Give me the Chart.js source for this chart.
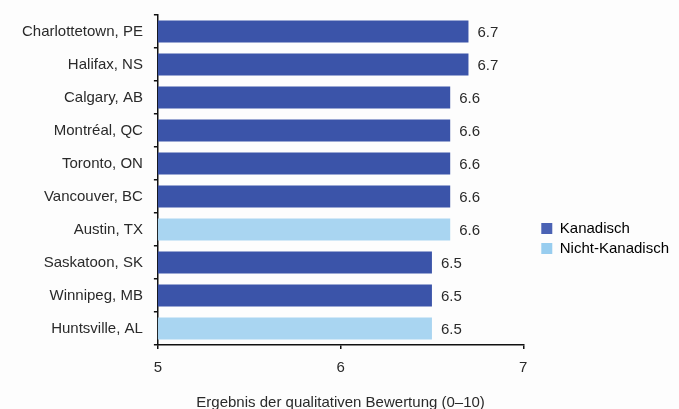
<!DOCTYPE html>
<html>
<head>
<meta charset="utf-8">
<script src="https://cdn.jsdelivr.net/npm/chart.js@4"></script>
<style>
  html, body { margin: 0; padding: 0; background: #fdfdfd; }
  #wrap { width: 679px; height: 409px; position: relative; }
</style>
</head>
<body>
<div id="wrap"><canvas id="c"></canvas></div>
<script>
// Cities and their qualitative scores (0–10 scale)
const cities = [
  'Charlottetown, PE', 'Halifax, NS', 'Calgary, AB', 'Montréal, QC', 'Toronto, ON',
  'Vancouver, BC', 'Austin, TX', 'Saskatoon, SK', 'Winnipeg, MB', 'Huntsville, AL'
];
const scores = [6.7, 6.7, 6.6, 6.6, 6.6, 6.6, 6.6, 6.5, 6.5, 6.5];
// true = Canadian city
const canadian = [true, true, true, true, true, true, false, true, true, false];
const groupNames = ['Kanadisch', 'Nicht-Kanadisch'];
const xTicks = [5, 6, 7];

const DARK = '#3b54a9';
const LIGHT = '#a9d5f1';
const LEGEND_DARK = '#4a62b4';
const LEGEND_LIGHT = '#98cdef';
const TEXT = '#2a2a2a';
const FONT = 'Liberation Sans, Arial, Helvetica, sans-serif';

// Value labels to the right of each bar
const valueLabels = {
  id: 'valueLabels',
  afterDatasetsDraw(chart) {
    const ctx = chart.ctx;
    const meta = chart.getDatasetMeta(0);
    ctx.save();
    ctx.font = '15px ' + FONT;
    ctx.fillStyle = TEXT;
    ctx.textAlign = 'left';
    ctx.textBaseline = 'middle';
    meta.data.forEach((bar, i) => {
      ctx.fillText(scores[i].toFixed(1), bar.x + 9, bar.y + 1);
    });
    ctx.restore();
  }
};

// Place the legend block beside the lower half of the plot
const legendPlacement = {
  id: 'legendPlacement',
  afterLayout(chart) {
    const lg = chart.legend;
    const dy = 25, dx = 13;
    lg.top += dy; lg.bottom += dy;
    lg.left += dx; lg.right += dx;
  }
};

new Chart(document.getElementById('c'), {
  type: 'bar',
  data: {
    labels: cities,
    datasets: [{
      data: scores,
      backgroundColor: canadian.map(c => c ? DARK : LIGHT),
      borderWidth: 0,
      barPercentage: 0.67,
      categoryPercentage: 1.0
    }]
  },
  options: {
    indexAxis: 'y',
    responsive: true,
    maintainAspectRatio: false,
    animation: false,
    layout: { padding: { top: 15, left: 11, right: 13, bottom: -3 } },
    plugins: {
      tooltip: { enabled: false },
      legend: {
        display: true,
        position: 'right',
        align: 'center',
        labels: {
          boxWidth: 11,
          boxHeight: 11,
          padding: 5,
          color: TEXT,
          font: { size: 15, family: FONT },
          generateLabels() {
            return groupNames.map((name, i) => ({
              text: name,
              fillStyle: i === 0 ? LEGEND_DARK : LEGEND_LIGHT,
              strokeStyle: 'rgba(0,0,0,0)',
              lineWidth: 0,
              hidden: false,
              datasetIndex: 0
            }));
          }
        },
        onClick() {}
      }
    },
    scales: {
      x: {
        min: 5,
        max: 7,
        afterBuildTicks(axis) { axis.ticks = xTicks.map(v => ({ value: v })); },
        border: { display: true, color: '#111', width: 1.5 },
        grid: { display: true, drawOnChartArea: false, drawTicks: true, tickLength: 4, color: '#111', lineWidth: 1.5 },
        ticks: {
          color: TEXT,
          font: { size: 15, family: FONT },
          padding: 10
        },
        title: {
          display: true,
          text: 'Ergebnis der qualitativen Bewertung (0–10)',
          color: TEXT,
          font: { size: 15, family: FONT },
          padding: { top: 7, bottom: 0 }
        }
      },
      y: {
        // category labels sit mid-band, so no extra room is needed above or below
        afterFit(axis) { axis.paddingTop = 0; axis.paddingBottom = 0; },
        border: { display: true, color: '#111', width: 1.5 },
        grid: { display: true, offset: true, drawOnChartArea: false, drawTicks: true, tickLength: 4, color: '#111', lineWidth: 1.5 },
        ticks: {
          color: TEXT,
          font: { size: 15, family: FONT },
          padding: 11
        }
      }
    }
  },
  plugins: [valueLabels, legendPlacement]
});
</script>
</body>
</html>
